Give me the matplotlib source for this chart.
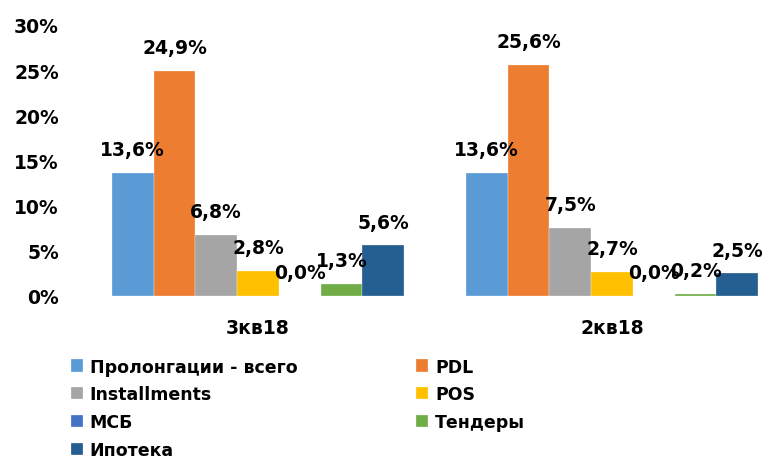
import numpy as np
import matplotlib
matplotlib.use('Agg')
import matplotlib.pyplot as plt

plt.rcParams['font.family'] = ['DejaVu Sans']
plt.rcParams['font.weight'] = 'bold'

categories = ['3кв18', '2кв18']
series = ['Пролонгации - всего', 'PDL', 'Installments', 'POS', 'МСБ', 'Тендеры', 'Ипотека']
values = [
    [13.6, 13.6],
    [24.9, 25.6],
    [6.8, 7.5],
    [2.8, 2.7],
    [0.0, 0.0],
    [1.3, 0.2],
    [5.6, 2.5],
]
colors = ['#5B9BD5', '#ED7D31', '#A5A5A5', '#FFC000', '#4472C4', '#70AD47', '#255E91']
yticks = [0, 5, 10, 15, 20, 25, 30]

fig = plt.figure(figsize=(7.63, 4.60), dpi=100)
ax = fig.add_axes([70/763, 1-297/460, (763-70)/763, 271/460])

x = np.arange(len(categories))
w = 0.118
handles = []
for i, (name, vals) in enumerate(zip(series, values)):
    pos = x + (i - 3) * w
    b = ax.bar(pos, vals, w, color=colors[i], edgecolor='white', linewidth=0.2, label=name)
    handles.append(b)
    for p, v in zip(pos, vals):
        ax.annotate(f'{v:.1f}%'.replace('.', ','), (p, v), xytext=(0, 10),
                    textcoords='offset points', ha='center', va='bottom',
                    fontsize=13.5, fontweight='bold')

ax.set_xlim(-(258-70)/354, 1 + (763-612)/354)
ax.set_ylim(0, 30)
ax.set_yticks(yticks)
ax.set_yticklabels([f'{t}%' for t in yticks], fontsize=13.5, fontweight='bold')
ax.set_xticks(x)
ax.set_xticklabels(categories, fontsize=13.5, fontweight='bold')
ax.tick_params(axis='both', length=0)
ax.tick_params(axis='x', pad=16)
ax.tick_params(axis='y', pad=8)
for s in ax.spines.values():
    s.set_visible(False)

order = [0, 2, 4, 6, 1, 3, 5]
leg = fig.legend([handles[i] for i in order], [series[i] for i in order],
                 ncol=2, loc='upper left', bbox_to_anchor=(55/763, 1-343/460),
                 frameon=False, prop={'size': 12.5, 'weight': 'bold'},
                 handlelength=0.7, handleheight=0.7, handletextpad=0.4,
                 labelspacing=0.56, columnspacing=6.85)

fig.savefig('out.png', dpi=100)
